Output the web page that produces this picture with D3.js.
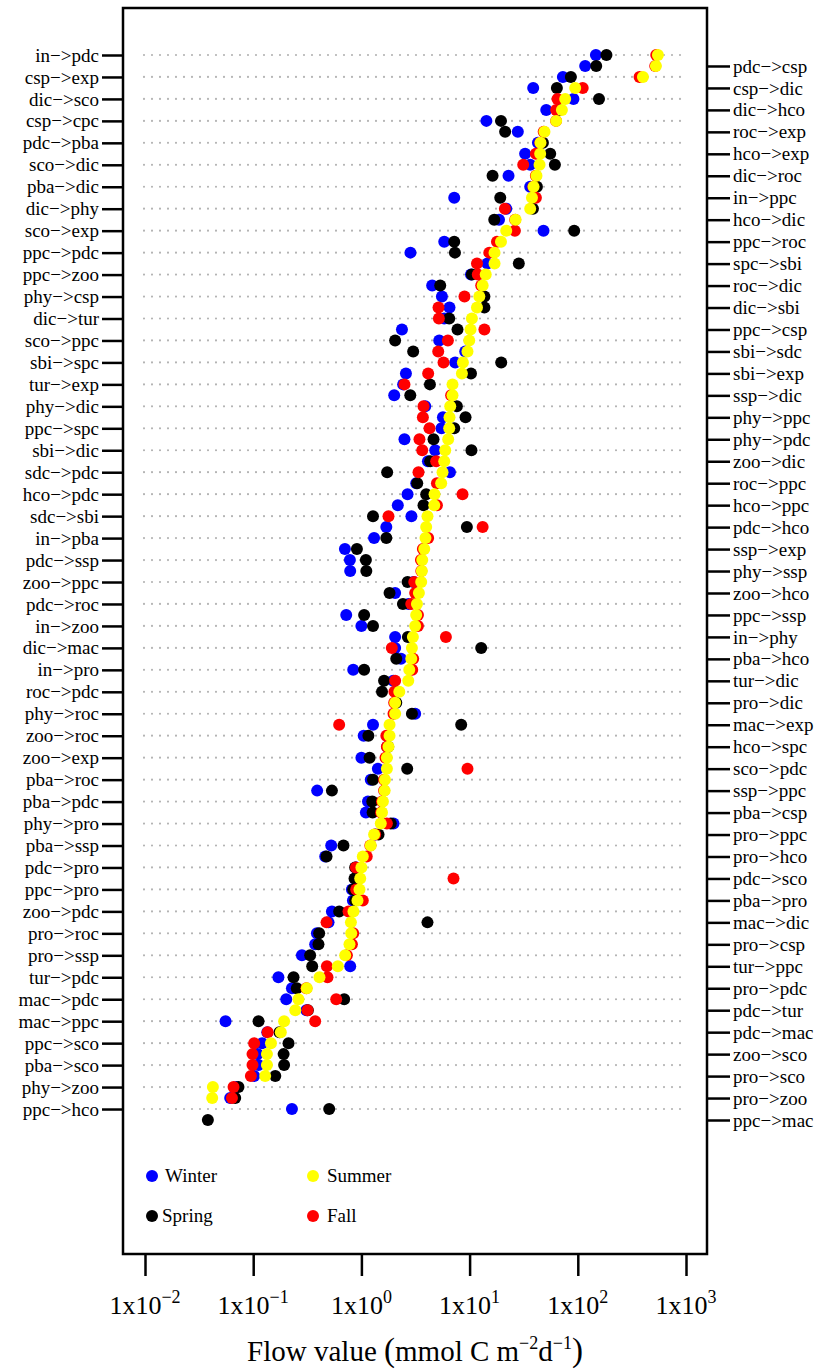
<!DOCTYPE html>
<meta charset="utf-8">
<script src="https://d3js.org/d3.v7.min.js"></script>
<style>
  body { margin: 0; background: #fff; }
  text { font-family: "Liberation Serif", "Times New Roman", serif; }
</style>
<div id="chart"></div>
<script>

// flows shown on the left axis (even rows) and right axis (odd rows)
var leftFlows = ["in->pdc","csp->exp","dic->sco","csp->cpc","pdc->pba","sco->dic","pba->dic","dic->phy",
  "sco->exp","ppc->pdc","ppc->zoo","phy->csp","dic->tur","sco->ppc","sbi->spc","tur->exp","phy->dic",
  "ppc->spc","sbi->dic","sdc->pdc","hco->pdc","sdc->sbi","in->pba","pdc->ssp","zoo->ppc","pdc->roc",
  "in->zoo","dic->mac","in->pro","roc->pdc","phy->roc","zoo->roc","zoo->exp","pba->roc","pba->pdc",
  "phy->pro","pba->ssp","pdc->pro","ppc->pro","zoo->pdc","pro->roc","pro->ssp","tur->pdc","mac->pdc",
  "mac->ppc","ppc->sco","pba->sco","phy->zoo","ppc->hco"];

var rightFlows = ["pdc->csp","csp->dic","dic->hco","roc->exp","hco->exp","dic->roc","in->ppc","hco->dic",
  "ppc->roc","spc->sbi","roc->dic","dic->sbi","ppc->csp","sbi->sdc","sbi->exp","ssp->dic","phy->ppc",
  "phy->pdc","zoo->dic","roc->ppc","hco->ppc","pdc->hco","ssp->exp","phy->ssp","zoo->hco","ppc->ssp",
  "in->phy","pba->hco","tur->dic","pro->dic","mac->exp","hco->spc","sco->pdc","ssp->ppc","pba->csp",
  "pro->ppc","pro->hco","pdc->sco","pba->pro","mac->dic","pro->csp","tur->ppc","pro->pdc","pdc->tur",
  "pdc->mac","zoo->sco","pro->sco","pro->zoo","ppc->mac"];

// flow values (mmol C m-2 d-1), one per row, top to bottom
var winter = [147,117,72.8,38.7,91.2,51.1,14.3,27.9,42.8,32.6,36.3,22.9,36.3,7.21,21.8,18.7,48.2,5.83,
  2.84,14.6,10.3,4.51,5.55,6.52,5.83,2.37,5.24,9.11,7.36,2.58,2.43,2.01,3.89,5.67,5.50,2.50,4.81,4.12,
  6.58,3.21,2.67,2.17,2.90,1.70,1.31,0.704,0.783,0.788,3.03,2.05,2.73,0.724,1.00,2.05,2.05,2.32,0.840,
  1.97,2.10,2.05,3.14,1.28,1.05,1.73,1.00,1.42,1.22,0.390,1.15,1.10,1.98,1.34,0.526,0.463,0.895,0.876,
  0.817,0.835,0.534,0.497,0.388,0.374,0.282,0.788,0.171,0.228,0.202,0.31,0.0555,0.135,0.121,0.110,
  0.112,0.102,0.0695,0.0613,0.228,null];

var spring = [184,148,86.3,64.1,157,67.3,19.5,21.3,47.6,55.6,61.4,16.3,41.9,19.2,38.5,16.9,92.6,7.21,
  7.32,28.5,10.5,5.35,13.7,13.7,6.48,7.73,2.05,3.01,19.6,10.3,4.30,2.83,7.63,9.17,7.21,4.64,10.4,4.32,
  1.73,3.28,3.97,3.75,1.28,9.44,1.70,0.909,1.10,1.11,2.67,1.82,2.42,1.06,1.28,2.69,12.8,2.10,1.06,
  1.62,1.55,2.10,2.93,8.36,1.16,1.77,1.19,2.65,1.28,0.534,1.26,1.27,1.87,1.44,0.683,0.476,0.876,0.864,
  0.840,0.876,0.623,4.08,0.407,0.401,0.336,0.351,0.236,0.253,0.693,0.32,0.112,0.175,0.212,0.191,
  0.193,0.160,0.0731,0.0682,0.504,0.0381];

var summer = [550,527,400,94.6,76.5,71.3,63.1,49.2,45.2,44.9,44.3,41.5,39.0,37.7,36.3,26.6,21.8,19.5,
  17.0,17.0,14.1,13.2,12.3,11.7,10.5,10.2,9.92,9.56,8.67,8.49,6.95,6.95,6.62,6.52,6.48,6.34,5.95,5.83,
  5.62,5.46,4.74,4.71,4.08,3.97,3.91,3.81,3.65,3.62,3.57,3.40,3.26,3.21,3.14,2.99,2.93,2.89,2.77,
  2.71,2.24,2.05,2.05,1.82,1.82,1.78,1.72,1.72,1.65,1.64,1.58,1.55,1.51,1.31,1.22,1.03,1.00,0.975,
  0.960,0.920,0.845,0.800,0.805,0.776,0.708,0.606,0.410,0.313,0.262,0.245,0.193,0.180,0.146,0.134,
  0.134,0.129,0.0424,0.0418,null,null];

var fall = [531,520,372,111,64.9,63.1,63,48.4,45,41.0,31.3,41,38.8,41.0,21.2,26.4,26.2,17.9,
  15.2,11.7,11.9,12.8,8.97,5.16,5.20,13.7,6.30,5.13,5.74,4.14,2.50,6.75,3.75,3.70,4.26,3.44,3.65,4.91,
  3.37,4.99,8.60,4.99,1.78,13.2,4.14,3.70,3.55,3.58,3.08,3.14,2.89,3.33,3.33,6.04,1.91,3.01,2.95,
  2.05,2.02,2.01,1.98,0.623,1.70,1.72,1.67,9.56,1.62,1.62,1.55,1.52,1.72,1.34,1.21,1.12,0.889,7.10,
  0.895,1.03,0.760,0.476,0.840,0.817,0.734,0.480,0.486,0.31,0.585,0.318,0.374,0.136,0.102,0.0985,
  0.0985,0.0952,0.0658,0.0636,null,null];

var xTicks = [1e-2, 1e-1, 1e0, 1e1, 1e2, 1e3];
var tickExp = ["\u22122", "\u22121", "0", "1", "2", "3"];

// ----------------------------------------------------------------------

var width = 821, height = 1372;
var frameL = 123, frameR = 707, frameT = 8, frameB = 1254;

var svg = d3.select("#chart")
  .append("svg")
  .attr("width", width)
  .attr("height", height);

// rows alternate: left label, right label
var flows = [];
for (var i = 0; i < leftFlows.length; i++) {
  flows.push(leftFlows[i]);
  if (i < rightFlows.length) flows.push(rightFlows[i]);
}

var x = d3.scaleLog().domain([1e-2, 1e3]).range([145, 686]);
var y = d3.scalePoint().domain(flows).range([55, 1120]);

var arrow = function(d) { return d.replace("->", "\u2212>"); };

// dotted guide lines on the left-label rows
svg.append("g")
  .selectAll("line")
  .data(leftFlows)
  .join("line")
  .attr("x1", 144)
  .attr("x2", 686)
  .attr("y1", function(d) { return y(d); })
  .attr("y2", function(d) { return y(d); })
  .attr("stroke", "#b4b4b4")
  .attr("stroke-width", 2.2)
  .attr("stroke-linecap", "round")
  .attr("stroke-dasharray", "0,8");

// axes
var axLeft = svg.append("g")
  .attr("transform", "translate(" + frameL + ",0)")
  .call(d3.axisLeft(y).tickValues(leftFlows).tickSize(21).tickPadding(3).tickFormat(arrow));

var axRight = svg.append("g")
  .attr("transform", "translate(" + frameR + ",0)")
  .call(d3.axisRight(y).tickValues(rightFlows).tickSize(23).tickPadding(3).tickFormat(arrow));

var axBottom = svg.append("g")
  .attr("transform", "translate(0," + frameB + ")")
  .call(d3.axisBottom(x).tickValues(xTicks).tickSize(22).tickFormat(""));

[axLeft, axRight, axBottom].forEach(function(a) {
  a.select(".domain").remove();
  a.selectAll(".tick line").attr("stroke", "#000").attr("stroke-width", 2.5);
  a.selectAll(".tick text")
    .attr("fill", "#000")
    .style("font-family", "'Liberation Serif', serif")
    .style("font-size", "19px");
});

// x tick labels 1x10^n
var tl = svg.append("g")
  .selectAll("text")
  .data(xTicks)
  .join("text")
  .attr("x", function(d) { return x(d); })
  .attr("y", 1314)
  .attr("text-anchor", "middle")
  .style("font-size", "26px");
tl.append("tspan").text("1x10");
tl.append("tspan")
  .attr("dy", -11)
  .style("font-size", "18px")
  .text(function(d, i) { return tickExp[i]; });

// axis title
var title = svg.append("text")
  .attr("x", (frameL + frameR) / 2)
  .attr("y", 1361)
  .attr("text-anchor", "middle")
  .style("font-size", "29px");
title.append("tspan").text("Flow value ");
title.append("tspan").style("font-size", "33px").text("(");
title.append("tspan").text("mmol C m");
title.append("tspan").attr("dy", -12).style("font-size", "18px").text("\u22122");
title.append("tspan").attr("dy", 12).text("d");
title.append("tspan").attr("dy", -12).style("font-size", "18px").text("\u22121");
title.append("tspan").attr("dy", 12).style("font-size", "33px").text(")");

// points, drawn winter -> spring -> fall -> summer
var series = [
  {id: "Winter", vals: winter, cor: "#0000ff"},
  {id: "Spring", vals: spring, cor: "#000000"},
  {id: "Fall", vals: fall, cor: "#ff0000"},
  {id: "Summer", vals: summer, cor: "#ffff00"}
];

series.forEach(function(s) {
  var pts = flows.map(function(f, i) { return {f: f, v: s.vals[i]}; })
    .filter(function(d) { return d.v != null; });
  svg.append("g")
    .selectAll("circle")
    .data(pts)
    .join("circle")
    .attr("cx", function(d) { return x(d.v); })
    .attr("cy", function(d) { return y(d.f); })
    .attr("r", 6)
    .attr("fill", s.cor);
});

// frame
svg.append("rect")
  .attr("x", frameL)
  .attr("y", frameT)
  .attr("width", frameR - frameL)
  .attr("height", frameB - frameT)
  .attr("fill", "none")
  .attr("stroke", "#000")
  .attr("stroke-width", 2.5);

// legend
var leg = [
  {id: "Winter", cor: "#0000ff", x: 152, y: 1176, tx: 165},
  {id: "Summer", cor: "#ffff00", x: 313, y: 1176, tx: 327},
  {id: "Spring", cor: "#000000", x: 152, y: 1216, tx: 162},
  {id: "Fall", cor: "#ff0000", x: 313, y: 1216, tx: 327}
];
var lg = svg.append("g");
lg.selectAll("circle")
  .data(leg)
  .join("circle")
  .attr("cx", function(d) { return d.x; })
  .attr("cy", function(d) { return d.y; })
  .attr("r", 6)
  .attr("fill", function(d) { return d.cor; });
lg.selectAll("text")
  .data(leg)
  .join("text")
  .attr("x", function(d) { return d.tx; })
  .attr("y", function(d) { return d.y + 6; })
  .style("font-size", "19px")
  .text(function(d) { return d.id; });

</script>
